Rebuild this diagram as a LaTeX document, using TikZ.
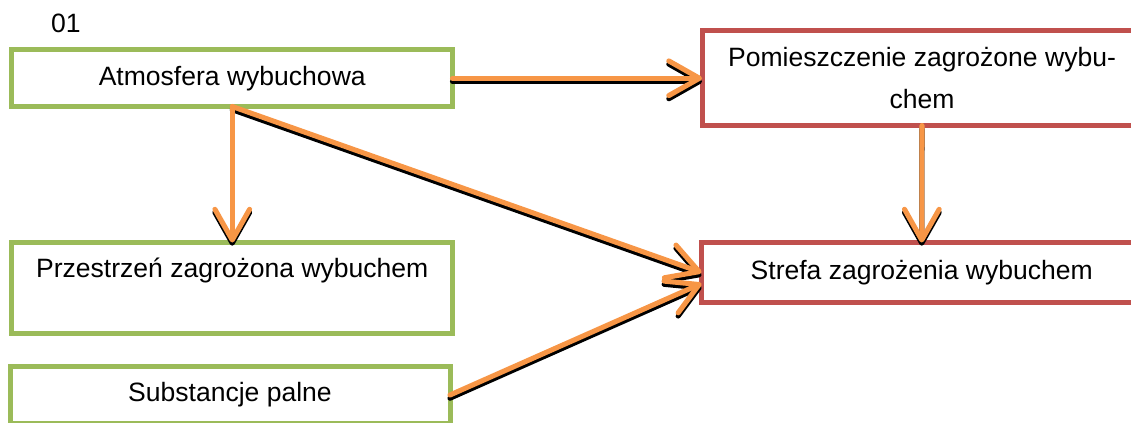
\documentclass[tikz,border=0pt]{standalone}
\usepackage{fontspec}
\setmainfont{Liberation Sans}
\usetikzlibrary{arrows.meta,calc}
\definecolor{boxgreen}{HTML}{9BBB59}
\definecolor{boxred}{HTML}{C0504D}
\definecolor{linkorange}{HTML}{F79646}

\begin{document}
\begin{tikzpicture}[x=0.75pt,y=-0.75pt,
  txt/.style={font=\fontsize{19.9pt}{31.5pt}\selectfont},
  box/.style={txt, draw, line width=3.75pt, inner sep=0pt, outer sep=0pt, align=center},
  greenbox/.style={box, draw=boxgreen},
  redbox/.style={box, draw=boxred},
  barb/.style={-{Straight Barb[length=23pt,width=26pt,line cap=round,line join=round]}},
  link/.style={barb, line width=3.8pt, draw=linkorange, line cap=round},
  linkshadow/.style={barb, line width=3.8pt, draw=black, line cap=round,
    transform canvas={yshift=-2.4pt}},
]
\useasboundingbox (0,0) rectangle (1131,422);
\clip (0,0) rectangle (1131,422);

% boxes
\node[txt] (num) at (66,23) {01};
\node[greenbox, minimum width=330.4pt, minimum height=42.4pt] (A) at (232.25,78.25) {Atmosfera wybuchowa};
\node[greenbox, minimum width=330.4pt, minimum height=68.6pt] (Z) at (232.25,288.25) {Przestrzeń zagrożona wybuchem\\\mbox{}};
\node[greenbox, minimum width=330pt, minimum height=42.75pt] (B) at (230,395) {Substancje palne};
\node[redbox, minimum width=330pt, minimum height=70.9pt] (P) at (922,78.25) {Pomieszczenie zagrożone wybu-\\chem};
\node[redbox, minimum width=330.4pt, minimum height=45pt] (S) at (921.75,272.5) {Strefa zagrożenia wybuchem};

\coordinate (Sin) at ($(S.west)+(0,11)$);

% connector shadows
\draw[linkshadow] (A.east) -- (P.west);
\draw[linkshadow] (A.south) -- (Z.north);
\draw[linkshadow] (A.south) -- (S.west);
\draw[linkshadow] (B.east) -- (Sin);
\draw[linkshadow] (P.south) -- (S.north);

% connectors
\draw[link] (A.east) -- (P.west);
\draw[link] (A.south) -- (Z.north);
\draw[link] (A.south) -- (S.west);
\draw[link] (B.east) -- (Sin);
\draw[link] (P.south) -- (S.north);
\end{tikzpicture}
\end{document}
